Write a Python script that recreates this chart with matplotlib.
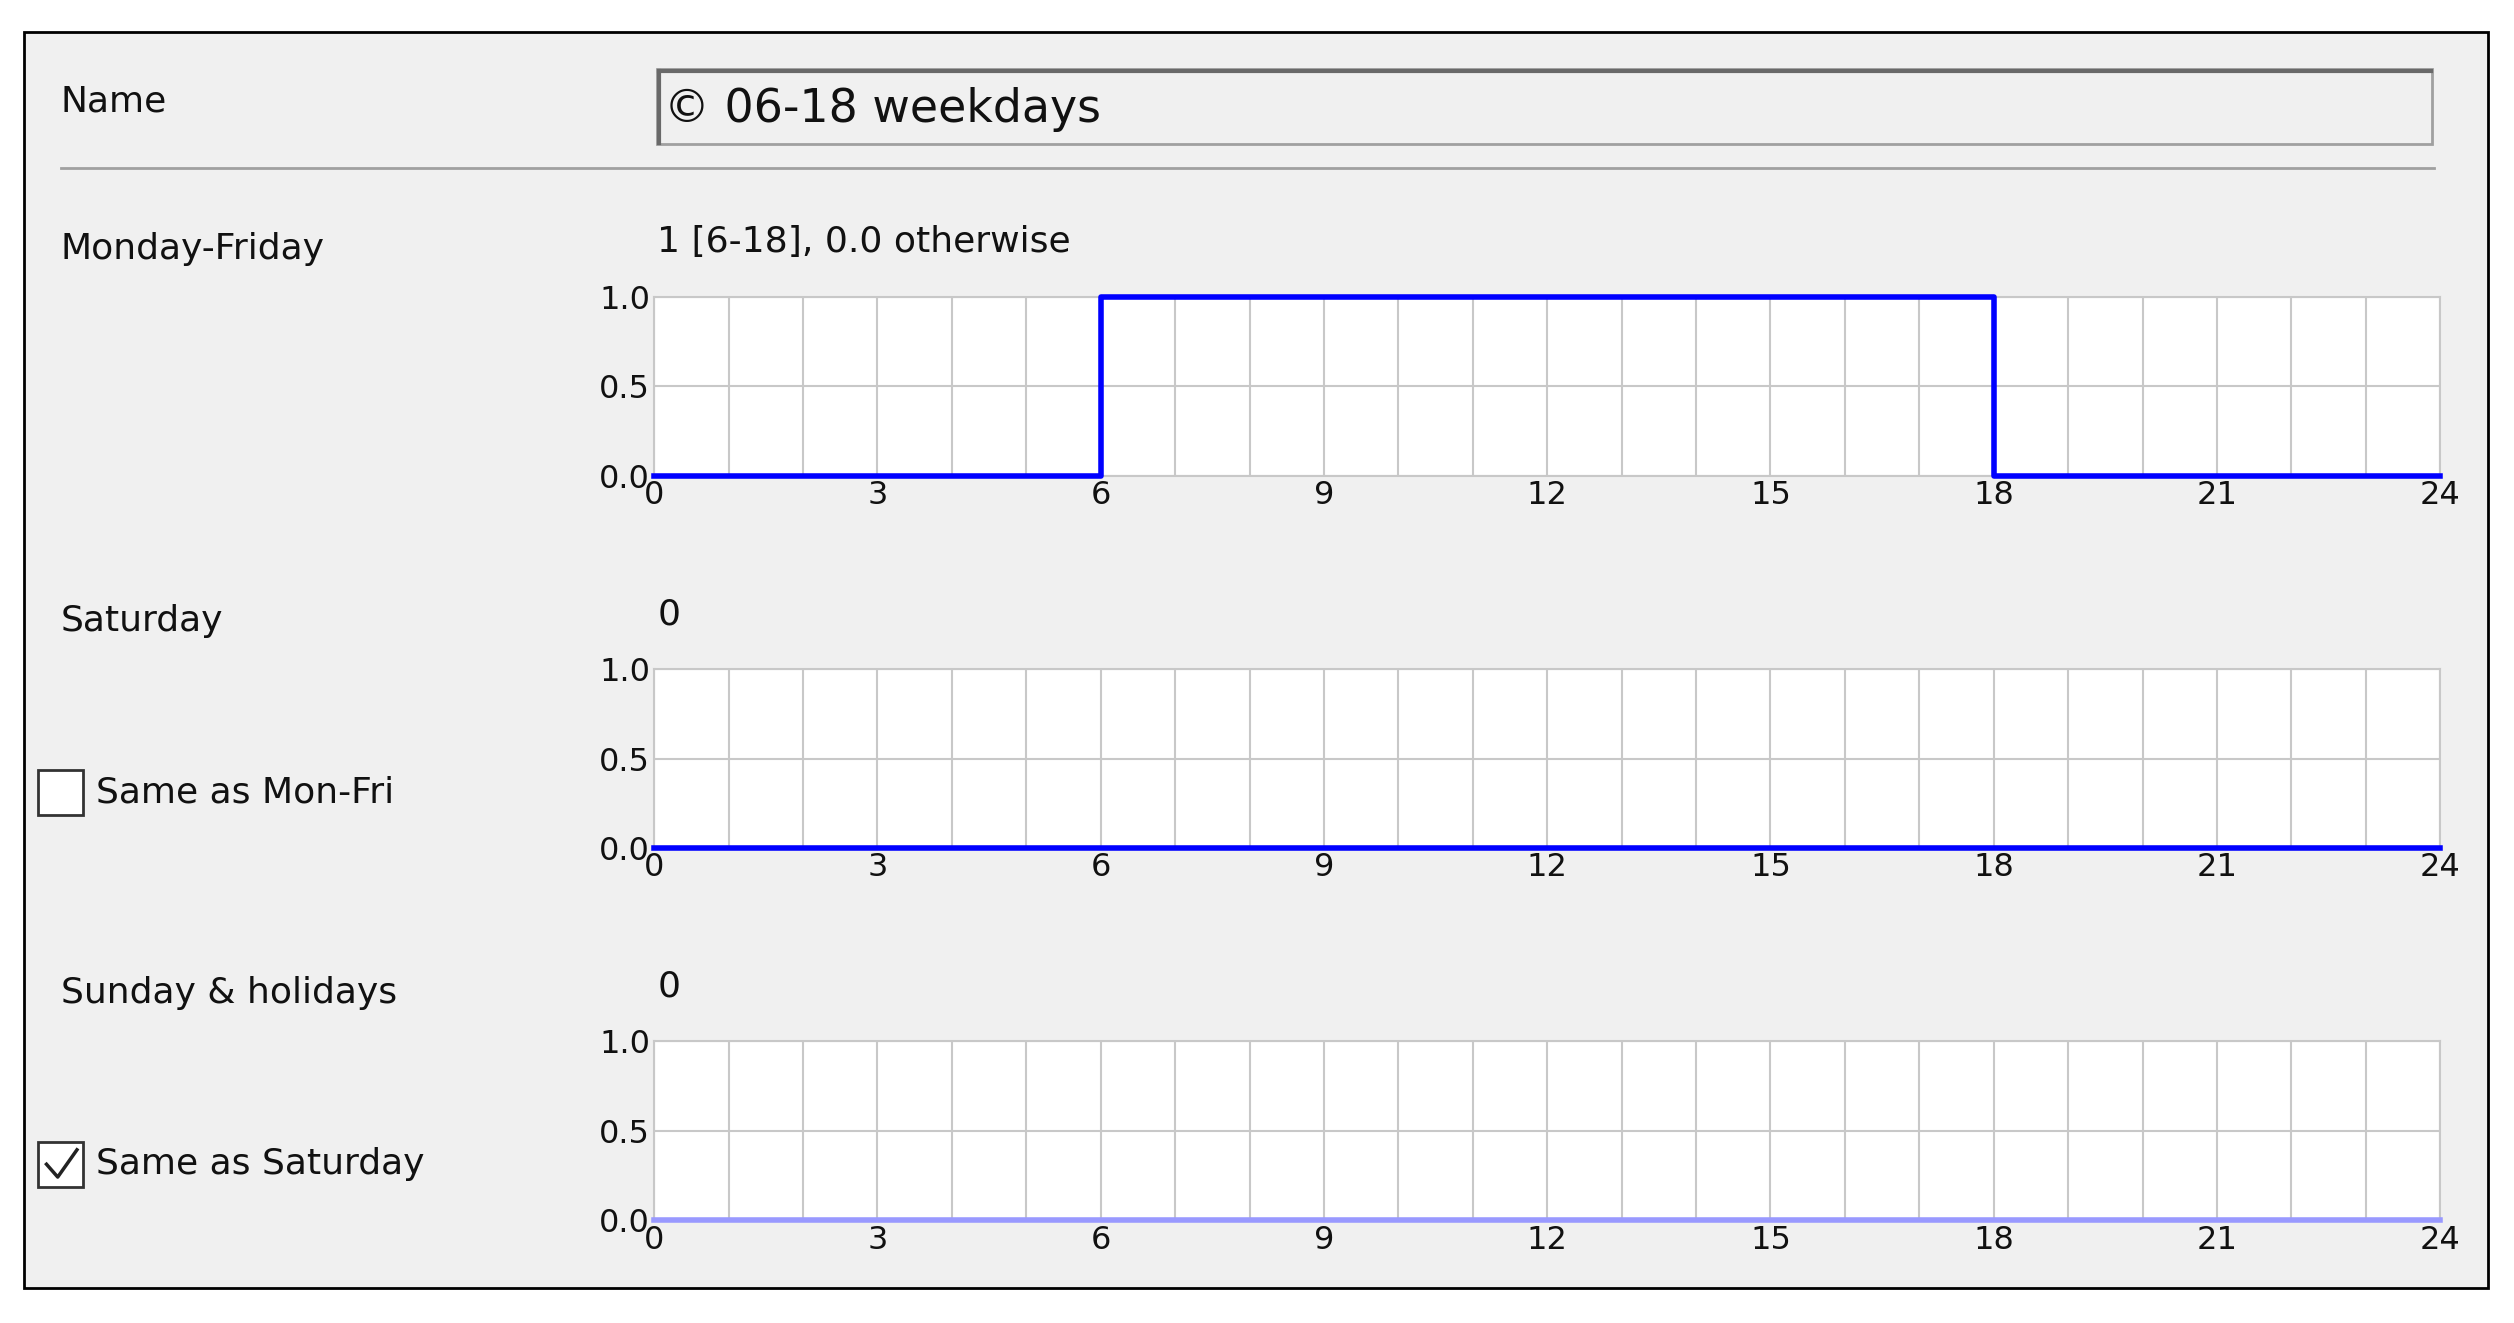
import matplotlib.pyplot as plt
import matplotlib.patches as patches
import numpy as np

# schedule data
hours = [0, 6, 18, 24]
weekday_vals = [0, 1, 0, 0]
saturday_vals = [0, 0, 0, 0]
sunday_vals = [0, 0, 0, 0]
x_ticks = [0, 3, 6, 9, 12, 15, 18, 21, 24]
y_ticks = [0.0, 0.5, 1.0]

W, H = 1568.0, 825.0  # layout measured on the reference at this scale
bg = '#f0f0f0'
fig = plt.figure(figsize=(25.14, 13.23), dpi=100)
fig.patch.set_facecolor('white')


def fx(x):
    return x / W


def fy(y):
    return 1 - y / H


def rect(x0, y0, x1, y1, **kw):
    fig.add_artist(patches.Rectangle((fx(x0), fy(y1)), fx(x1) - fx(x0), fy(y0) - fy(y1),
                                     transform=fig.transFigure, **kw))


def label(x, y, s, size=26, **kw):
    fig.text(fx(x), fy(y), s, fontsize=size, va='center', ha='left',
             family='DejaVu Sans', color='#111111', **kw)


# outer frame
rect(15, 20, 1552, 803, facecolor=bg, edgecolor='black', linewidth=2, zorder=-5)

label(38, 63, "Name")
rect(410, 43, 1517, 90, facecolor='#f0f0f0', edgecolor='#a0a0a0', linewidth=2)
fig.add_artist(plt.Line2D([fx(411), fx(1516)], [fy(44), fy(44)], color='#696969', lw=3,
                          transform=fig.transFigure))
fig.add_artist(plt.Line2D([fx(411), fx(411)], [fy(44), fy(89)], color='#696969', lw=3,
                          transform=fig.transFigure))
label(414, 68, "© 06-18 weekdays", size=33)
fig.add_artist(plt.Line2D([fx(38), fx(1518)], [fy(105), fy(105)], color='#a0a0a0', lw=2,
                          transform=fig.transFigure))

panels = [
    ("Monday-Friday", "1 [6-18], 0.0 otherwise", weekday_vals, '#0000ff', 185, None),
    ("Saturday", "0", saturday_vals, '#0000ff', 417, ("Same as Mon-Fri", False)),
    ("Sunday & holidays", "0", sunday_vals, '#9999ff', 649, ("Same as Saturday", True)),
]

for title, summary, vals, color, top, check in panels:
    label(38, top - 30, title)
    label(410, top - 34, summary)
    ax = fig.add_axes([fx(408), fy(top + 112), fx(1522) - fx(408), fy(top) - fy(top + 112)])
    ax.set_zorder(5)
    ax.set_facecolor('white')
    ax.step(hours, vals, where='post', color=color, lw=4, clip_on=False, zorder=3)
    ax.set_xlim(0, 24)
    ax.set_ylim(0, 1)
    ax.set_xticks(np.arange(0, 25, 1), minor=True)
    ax.set_xticks(x_ticks)
    ax.set_yticks(y_ticks)
    ax.set_yticklabels(["0.0", "0.5", "1.0"])
    ax.grid(True, which='both', axis='x', color='#c8c8c8', lw=1.5)
    ax.grid(True, axis='y', color='#c8c8c8', lw=1.5)
    ax.tick_params(which='both', length=0, labelsize=23, pad=3, colors='#111111')
    for sp in ax.spines.values():
        sp.set_color('#c8c8c8')
        sp.set_linewidth(1.5)
    if check:
        text, checked = check
        cy = top + 77
        rect(24, cy - 14, 52, cy + 14, facecolor='white', edgecolor='#333333', linewidth=2)
        if checked:
            fig.add_artist(plt.Line2D([fx(29), fx(36), fx(48)], [fy(cy), fy(cy + 8), fy(cy - 9)],
                                      color='#222222', lw=2.5, transform=fig.transFigure))
        label(60, cy, text)

fig.savefig('out.png', dpi=100, facecolor='white')
